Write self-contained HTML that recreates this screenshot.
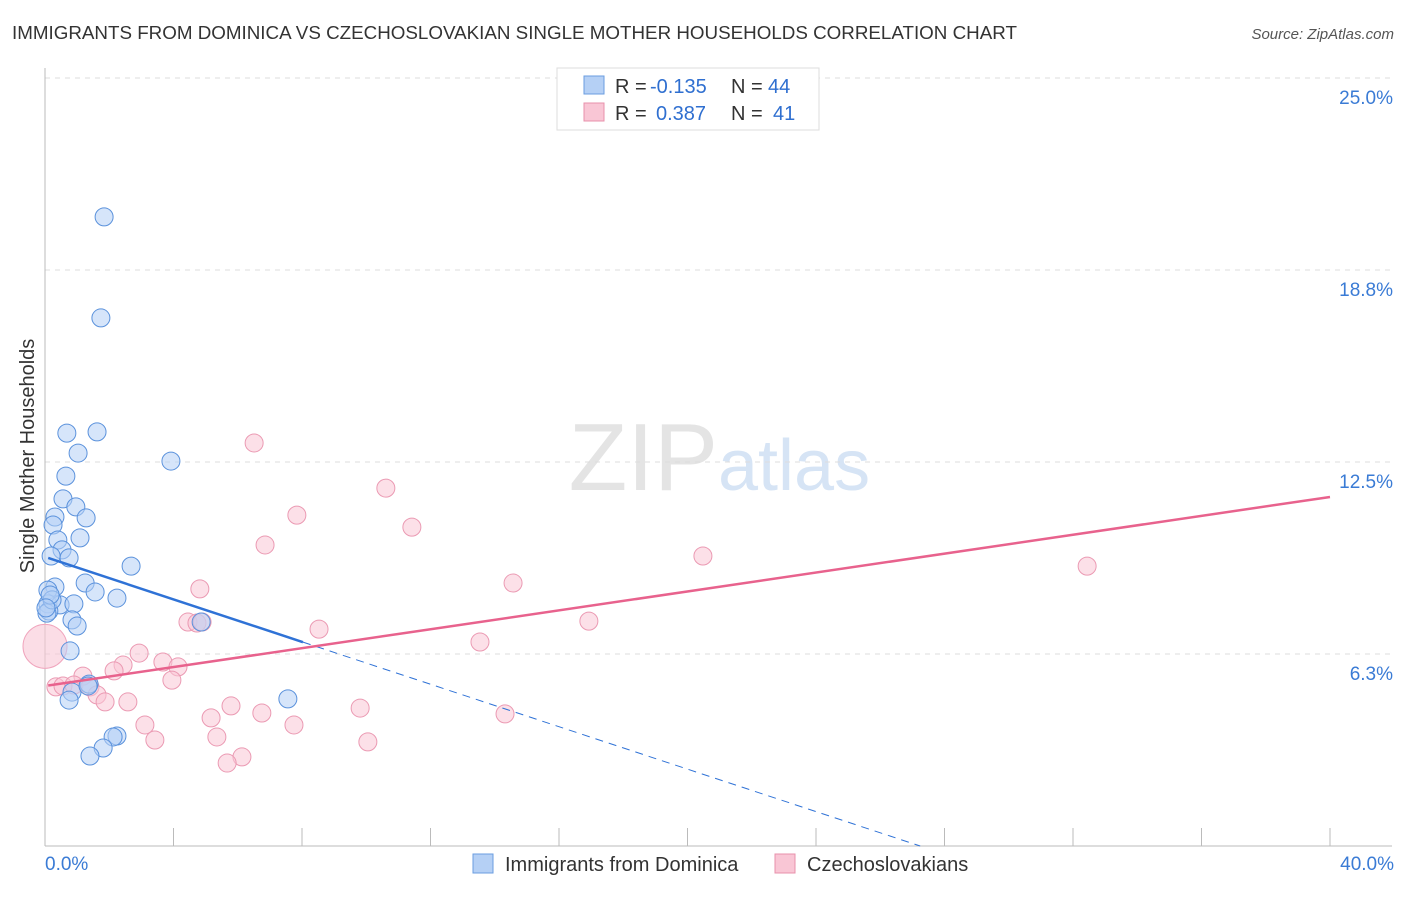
<!DOCTYPE html>
<html><head><meta charset="utf-8"><style>
body{margin:0;background:#fff;font-family:"Liberation Sans",sans-serif;}
svg text{font-family:"Liberation Sans",sans-serif;}
</style></head><body>
<svg width="1406" height="892" xmlns="http://www.w3.org/2000/svg">
<text x="12" y="39" font-size="18.8" fill="#333">IMMIGRANTS FROM DOMINICA VS CZECHOSLOVAKIAN SINGLE MOTHER HOUSEHOLDS CORRELATION CHART</text>
<text x="1394" y="39" font-size="15" fill="#555" font-style="italic" text-anchor="end">Source: ZipAtlas.com</text>
<text x="718" y="490" font-size="96" fill="#e4e4e4" text-anchor="end" font-family="Liberation Serif">ZIP</text>
<text x="718" y="490" font-size="72" fill="#d6e4f5">atlas</text>
<g id="grid"></g>
<line x1="45" y1="68" x2="45" y2="846" stroke="#bbb"/>
<line x1="45" y1="846" x2="1392" y2="846" stroke="#bbb"/>
<g id="xticks"></g>
<text x="45" y="870" font-size="19" fill="#3a7bd5">0.0%</text>
<text x="1394" y="870" font-size="19" fill="#3a7bd5" text-anchor="end">40.0%</text>
<text transform="translate(34,456) rotate(-90)" font-size="20" fill="#333" text-anchor="middle">Single Mother Households</text>
<g id="pts"></g>
<g id="lines"></g>
<g>
<rect x="557" y="68" width="262" height="62" fill="#fff" stroke="#ddd"/>
<rect x="584" y="76" width="20" height="18" fill="#b5d0f5" stroke="#6a9de0"/>
<text y="93" font-size="20" fill="#333"><tspan x="615">R =</tspan><tspan x="650" fill="#2f6fd0">-0.135</tspan><tspan x="731">N =</tspan><tspan x="768" fill="#2f6fd0">44</tspan></text>
<rect x="584" y="103" width="20" height="18" fill="#f9c6d5" stroke="#e890ab"/>
<text y="120" font-size="20" fill="#333"><tspan x="615">R =</tspan><tspan x="656" fill="#2f6fd0">0.387</tspan><tspan x="731">N =</tspan><tspan x="773" fill="#2f6fd0">41</tspan></text>
</g>
<g>
<rect x="473" y="854" width="20" height="19" fill="#b5d0f5" stroke="#6a9de0"/>
<text x="505" y="871" font-size="20" fill="#333">Immigrants from Dominica</text>
<rect x="775" y="854" width="20" height="19" fill="#f9c6d5" stroke="#e890ab"/>
<text x="807" y="871" font-size="20" fill="#333">Czechoslovakians</text>
</g>
</svg>
<script>
const yTicks=[6.25,12.5,18.75,25];
const yTickLabels=["6.3%","12.5%","18.8%","25.0%"];
const xTickVals=[0,4,8,12,16,20,24,28,32,36,40];
const bluePx=[[104,217],[101,318],[67,433],[97,432],[78,453],[171,461],[66,476],[63,499],[76,507],[55,517],[86,518],[53,525],[58,540],[80,538],[62,550],[69,558],[51,556],[131,566],[85,583],[55,587],[48,590],[95,592],[117,598],[48,604],[60,605],[74,604],[49,611],[47,613],[72,620],[77,626],[201,622],[70,651],[89,684],[72,692],[69,700],[288,699],[88,686],[117,736],[113,737],[103,748],[90,756],[52,600],[50,595],[46,608]];
const pinkPx=[[254,443],[386,488],[297,515],[412,527],[265,545],[703,556],[1087,566],[513,583],[200,589],[589,621],[188,622],[197,623],[202,622],[319,629],[480,642],[139,653],[163,662],[123,665],[178,667],[114,671],[83,676],[172,680],[56,687],[63,686],[74,685],[90,687],[97,695],[105,702],[128,702],[505,714],[231,706],[211,718],[360,708],[262,713],[145,725],[294,725],[217,737],[155,740],[368,742],[242,757],[227,763]];
const blueX=bluePx.map(p=>+((p[0]-45)/32.125).toFixed(2));
const blueY=bluePx.map(p=>+((846-p[1])/30.72).toFixed(2));
const pinkX=pinkPx.map(p=>+((p[0]-45)/32.125).toFixed(2));
const pinkY=pinkPx.map(p=>+((846-p[1])/30.72).toFixed(2));
const blueTrend=[9.41,-0.3454];
const pinkTrend=[5.21,0.1538];
const X=v=>45+v*32.125, Y=v=>846-v*30.72;
const NS="http://www.w3.org/2000/svg";
function mk(t,a,parent){const e=document.createElementNS(NS,t);for(const k in a)e.setAttribute(k,a[k]);document.getElementById(parent).appendChild(e);return e;}
yTicks.forEach((v,i)=>{
 const l=mk('line',{x1:45,x2:1392,y1:Y(v),y2:Y(v),stroke:'#ddd','stroke-dasharray':'5,5'},'grid');
 
 
 const t=mk('text',{x:1393,y:Y(v)+26,'font-size':19,fill:'#3a7bd5','text-anchor':'end'},'grid');
 t.textContent=yTickLabels[i];
 
 
});
xTickVals.forEach(v=>{
 const l=mk('line',{x1:X(v),x2:X(v),y1:828,y2:846,stroke:'#bbb'},'xticks');
 
 
});
const big=mk('circle',{cx:X(0),cy:Y(6.5),r:22,fill:'#f9c6d5','fill-opacity':0.6,stroke:'#f0a5bd'},'pts');


pinkX.forEach((x,i)=>{
 const c=mk('circle',{cx:X(x),cy:Y(pinkY[i]),r:9,fill:'#f9c6d5','fill-opacity':0.55,stroke:'#eb9ab3','stroke-width':1},'pts');
 
 
});
blueX.forEach((x,i)=>{
 const c=mk('circle',{cx:X(x),cy:Y(blueY[i]),r:9,fill:'#b5d0f5','fill-opacity':0.55,stroke:'#5b92dc','stroke-width':1},'pts');
 
 
});
const bEnd=8.03, bZero=-blueTrend[0]/blueTrend[1];
let l=mk('line',{x1:X(0.1),y1:Y(blueTrend[0]+blueTrend[1]*0.1),x2:X(bEnd),y2:Y(blueTrend[0]+blueTrend[1]*bEnd),stroke:'#2f72d6','stroke-width':2.5},'lines');


l=mk('line',{x1:X(bEnd),y1:Y(blueTrend[0]+blueTrend[1]*bEnd),x2:X(bZero),y2:Y(0),stroke:'#2f72d6','stroke-width':1,'stroke-dasharray':'8,6'},'lines');


l=mk('line',{x1:X(0.1),y1:Y(pinkTrend[0]+pinkTrend[1]*0.1),x2:X(40),y2:Y(pinkTrend[0]+pinkTrend[1]*40),stroke:'#e8628d','stroke-width':2.5},'lines');


</script>
</body></html>
